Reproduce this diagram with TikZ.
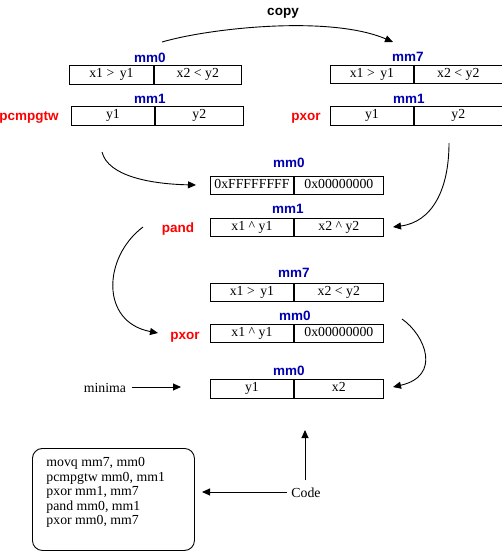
\documentclass[tikz,border=0pt]{standalone}
\usepackage{fontspec}
\setmainfont{Liberation Serif}
\setsansfont{Liberation Sans}
\usetikzlibrary{arrows.meta}
\definecolor{regblue}{RGB}{0,0,176}
\begin{document}
\begin{tikzpicture}[x=1pt,y=-1pt,
  cell/.style={draw, line width=0.9pt, inner sep=0pt, minimum height=18.5pt,
    text height=9.5pt, text depth=3pt, anchor=north west,
    font=\fontsize{13.8}{16}\selectfont},
  reg/.style={anchor=base, text=regblue, inner sep=0pt,
    font=\sffamily\bfseries\fontsize{13.5}{16}\selectfont},
  op/.style={reg, text=red},
  plain/.style={anchor=base, inner sep=0pt, font=\fontsize{13.8}{16}\selectfont},
  arr/.style={line width=0.9pt, -{Triangle[length=8pt,width=7pt]}}]
\useasboundingbox (0,0) rectangle (502,552);

% top-left registers
\node[cell, minimum width=84pt] (A1) at (69,65) {x1 >\hspace{0.15em} y1};
\node[cell, minimum width=87pt] (A2) at (A1.north east) {x2 < y2};
\node[reg] (lA) at (150,62) {mm0};
\node[cell, minimum width=83pt] (B1) at (71,106) {y1};
\node[cell, minimum width=88pt] (B2) at (B1.north east) {y2};
\node[reg] (lB) at (150,103) {mm1};
\node[op] (opB) at (29,120) {pcmpgtw};

% top-right registers
\node[cell, minimum width=83pt] (C1) at (330,64.5) {x1 >\hspace{0.15em} y1};
\node[cell, minimum width=88pt] (C2) at (C1.north east) {x2 < y2};
\node[reg] (lC) at (408,61) {mm7};
\node[cell, minimum width=83pt] (D1) at (330,106) {y1};
\node[cell, minimum width=88pt] (D2) at (D1.north east) {y2};
\node[reg] (lD) at (409,103) {mm1};
\node[op] (opD) at (306,120) {pxor};

\node[reg, text=black] (copy) at (283,15) {copy};

% middle registers
\node[cell, minimum width=83pt] (E1) at (210,175.5) {0xFFFFFFFF};
\node[cell, minimum width=89pt] (E2) at (E1.north east) {0x00000000};
\node[reg] (lE) at (289,167) {mm0};
\node[cell, minimum width=83pt] (F1) at (210,217.5) {x1 \textasciicircum\ y1};
\node[cell, minimum width=89pt] (F2) at (F1.north east) {x2 \textasciicircum\ y2};
\node[reg] (lF) at (288,213) {mm1};
\node[op] (opF) at (178,232) {pand};

\node[cell, minimum width=83pt] (G1) at (210,282.5) {x1 >\hspace{0.15em} y1};
\node[cell, minimum width=89pt] (G2) at (G1.north east) {x2 < y2};
\node[reg] (lG) at (294,277) {mm7};
\node[cell, minimum width=83pt] (H1) at (210,323.5) {x1 \textasciicircum\ y1};
\node[cell, minimum width=89pt] (H2) at (H1.north east) {0x00000000};
\node[reg] (lH) at (295,320) {mm0};
\node[op] (opH) at (185,339) {pxor};

\node[cell, minimum width=83pt] (I1) at (210,379) {y1};
\node[cell, minimum width=89pt] (I2) at (I1.north east) {x2};
\node[reg] (lI) at (289,375) {mm0};
\node[plain] (minima) at (105,392) {minima};

% code
\node[draw, line width=0.9pt, rounded corners=10pt, anchor=north west,
  inner xsep=14pt, inner ysep=0pt] (codebox) at (32,448)
  {\parbox[c][102pt][t]{134pt}{\fontsize{13.8}{14.6}\selectfont
   \rule{0pt}{18pt}movq mm7, mm0\\
   pcmpgtw mm0, mm1\\
   pxor mm1, mm7\\
   pand mm0, mm1\\
   pxor mm0, mm7}};
\node[plain] (code) at (306,497) {Code};

% connector end points
\coordinate (c1s) at (162,42);
\coordinate (c1e) at (393,42);
\coordinate (c2s) at (102,152);
\coordinate (c2e) at (196,185);
\coordinate (c3s) at (449,143);
\coordinate (c3e) at (393,227);
\coordinate (c4s) at (143,227);
\coordinate (c4e) at (158,333);
\coordinate (c5s) at (402,319);
\coordinate (c5e) at (393,387);
\coordinate (c6e) at (181,387);
\coordinate (c7s) at (305,480);
\coordinate (c7e) at (305,430);
\coordinate (c8e) at (202,492);

\draw[arr] (c1s) .. controls (210,28) and (330,15) .. (c1e);
\draw[arr] (c2s) .. controls (108,176) and (150,184) .. (c2e);
\draw[arr] (c3s) .. controls (449,190) and (432,222) .. (c3e);
\draw[arr] (c4s) .. controls (103,257) and (100,322) .. (c4e);
\draw[arr] (c5s) .. controls (425,335) and (442,376) .. (c5e);
\draw[arr] ([xshift=6pt]minima.east |- c6e) -- (c6e);
\draw[arr] (c7s) -- (c7e);
\draw[arr] ([xshift=-4pt]code.west |- c8e) -- (c8e);
\end{tikzpicture}
\end{document}
